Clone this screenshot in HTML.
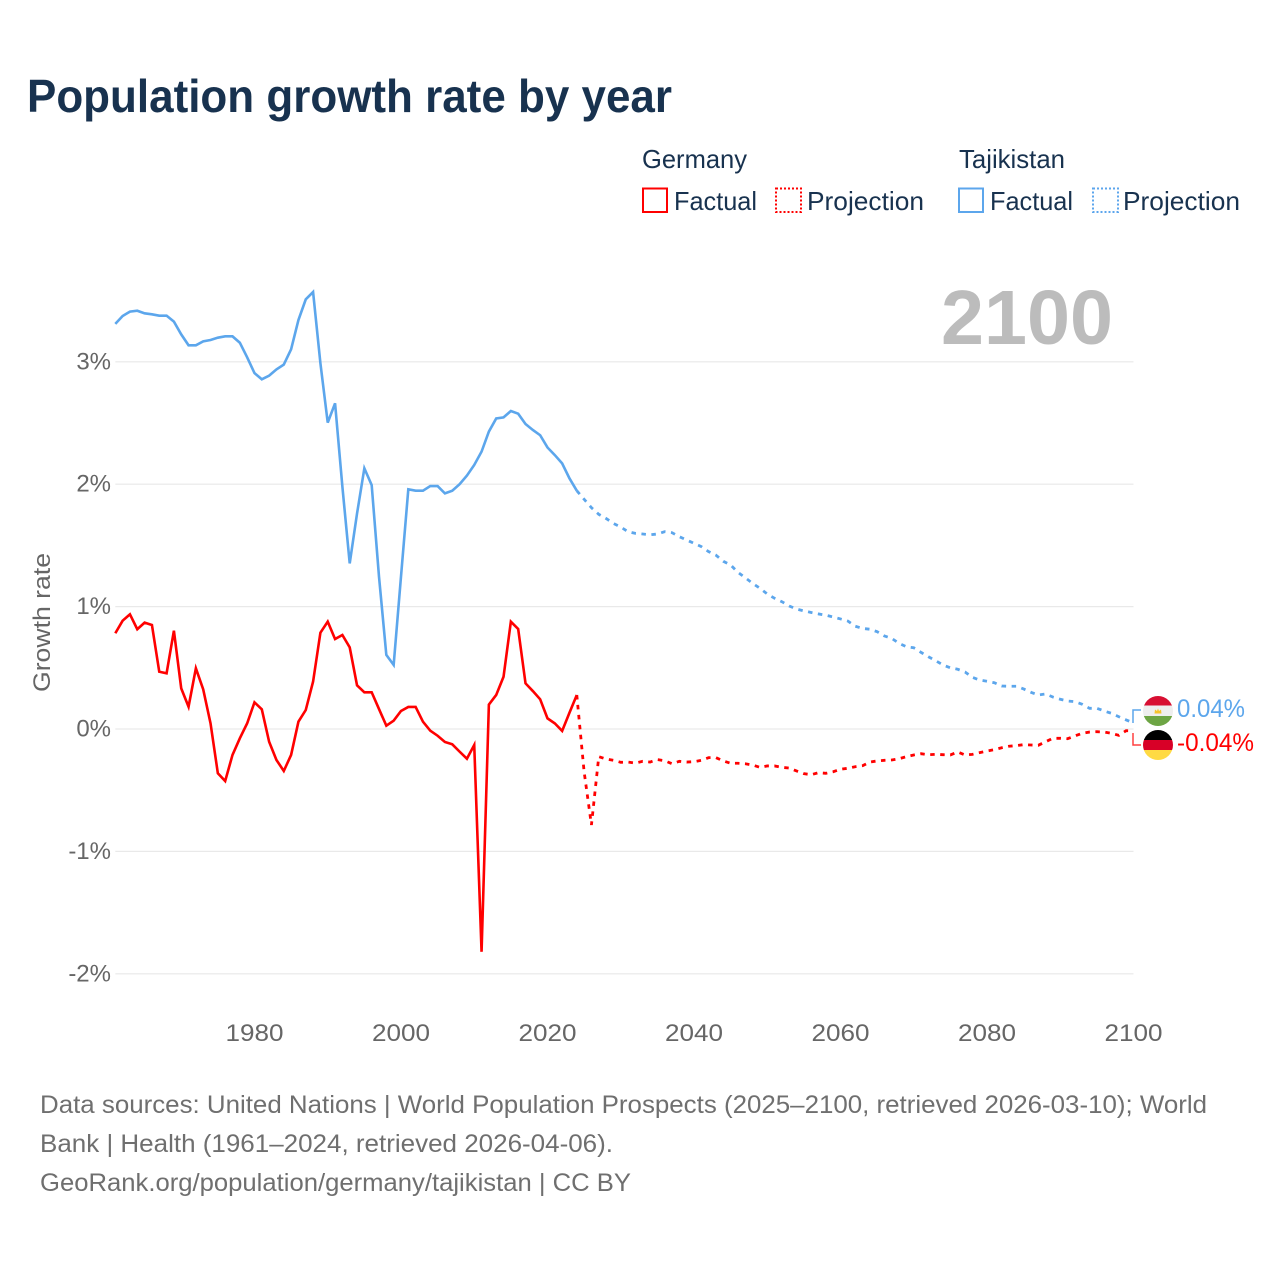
<!DOCTYPE html>
<html lang="en">
<head>
<meta charset="utf-8">
<title>Population growth rate by year</title>
<style>
html,body{margin:0;padding:0;background:#fff;}
svg{display:block;}
text{font-family:"Liberation Sans",Arial,sans-serif;}
</style>
</head>
<body>
<svg id="chart" xmlns="http://www.w3.org/2000/svg" width="1280" height="1280" viewBox="0 0 1280 1280">
  <rect x="0" y="0" width="1280" height="1280" fill="#ffffff"/>
  <text x="27" y="112" font-size="46" font-weight="700" fill="#18324f" textLength="645" lengthAdjust="spacingAndGlyphs">Population growth rate by year</text>

  <g font-size="26" fill="#18324f">
    <text x="642" y="168" textLength="105" lengthAdjust="spacingAndGlyphs">Germany</text>
    <text x="959" y="168" textLength="106" lengthAdjust="spacingAndGlyphs">Tajikistan</text>
    <rect x="643" y="188.5" width="24" height="23.5" fill="none" stroke="#ff0000" stroke-width="2"/>
    <text x="674" y="210" textLength="83" lengthAdjust="spacingAndGlyphs">Factual</text>
    <rect x="776" y="188.5" width="25" height="23.5" fill="none" stroke="#ff0000" stroke-width="2" stroke-dasharray="2 2"/>
    <text x="807" y="210" textLength="117" lengthAdjust="spacingAndGlyphs">Projection</text>
    <rect x="959" y="188.5" width="24" height="23.5" fill="none" stroke="#5ca6ec" stroke-width="2"/>
    <text x="990" y="210" textLength="83" lengthAdjust="spacingAndGlyphs">Factual</text>
    <rect x="1093" y="188.5" width="25" height="23.5" fill="none" stroke="#5ca6ec" stroke-width="2" stroke-dasharray="2 2"/>
    <text x="1123" y="210" textLength="117" lengthAdjust="spacingAndGlyphs">Projection</text>
  </g>

  <text x="941" y="344" font-size="77" font-weight="700" fill="#bcbcbc" textLength="172" lengthAdjust="spacingAndGlyphs">2100</text>

  <g id="grid"></g>
  <g id="y-axis" font-size="24" fill="#666666" text-anchor="end"></g>
  <g id="x-axis" font-size="24" fill="#666666" text-anchor="middle"></g>
  <text transform="translate(50,692) rotate(-90)" font-size="24" fill="#666666" textLength="139" lengthAdjust="spacingAndGlyphs">Growth rate</text>
  <g id="series"></g>

  <path d="M1133 723 V710 H1141" fill="none" stroke="#5ca6ec" stroke-width="1.5"/>
  <path d="M1133 733 V745 H1141" fill="none" stroke="#ff4040" stroke-width="1.5"/>

  <defs>
    <clipPath id="clip-tj"><circle cx="1158" cy="711" r="15"/></clipPath>
    <clipPath id="clip-de"><circle cx="1158" cy="745" r="15"/></clipPath>
  </defs>
  <g clip-path="url(#clip-tj)">
    <rect x="1143" y="696" width="30" height="9.5" fill="#d80f32"/>
    <rect x="1143" y="705.5" width="30" height="10.5" fill="#eeeeee"/>
    <rect x="1143" y="716" width="30" height="10" fill="#6da544"/>
    <path d="M1154.5 713.5 L1155 709.5 L1157 711 L1158 708.5 L1159 711 L1161 709.5 L1161.5 713.5 Z" fill="#f5c32c"/>
  </g>
  <g clip-path="url(#clip-de)">
    <rect x="1143" y="730" width="30" height="10" fill="#000000"/>
    <rect x="1143" y="740" width="30" height="10" fill="#d80027"/>
    <rect x="1143" y="750" width="30" height="10" fill="#ffda44"/>
  </g>
  <text x="1177" y="717" font-size="25" fill="#5ca6ec" textLength="68" lengthAdjust="spacingAndGlyphs">0.04%</text>
  <text x="1177" y="751" font-size="25" fill="#ff0000" textLength="77" lengthAdjust="spacingAndGlyphs">-0.04%</text>

  <g font-size="25" fill="#6f6f6f">
    <text x="40" y="1113" textLength="1167" lengthAdjust="spacingAndGlyphs">Data sources: United Nations | World Population Prospects (2025–2100, retrieved 2026-03-10); World</text>
    <text x="40" y="1152" textLength="573" lengthAdjust="spacingAndGlyphs">Bank | Health (1961–2024, retrieved 2026-04-06).</text>
    <text x="40" y="1191" textLength="591" lengthAdjust="spacingAndGlyphs">GeoRank.org/population/germany/tajikistan | CC BY</text>
  </g>
</svg>

<script>
const xTicks = [1980, 2000, 2020, 2040, 2060, 2080, 2100];
const yTicks = [3, 2, 1, 0, -1, -2];
const yTickLabels = ['3%', '2%', '1%', '0%', '-1%', '-2%'];
const factualStartYear = 1961;
const projectionStartYear = 2024;

const tajikistanFactual = [
  3.31, 3.374, 3.41, 3.417, 3.396, 3.388, 3.377, 3.377, 3.328, 3.224,
  3.135, 3.135, 3.167, 3.178, 3.197, 3.208, 3.208, 3.156, 3.037, 2.908,
  2.857, 2.887, 2.938, 2.977, 3.102, 3.341, 3.51, 3.57, 2.988, 2.503,
  2.661, 1.98, 1.353, 1.76, 2.13, 1.993, 1.244, 0.605, 0.523, 1.244,
  1.958, 1.947, 1.947, 1.985, 1.985, 1.925, 1.947, 2.0, 2.07, 2.157,
  2.266, 2.43, 2.537, 2.546, 2.598, 2.576, 2.492, 2.443, 2.4, 2.3,
  2.238, 2.17, 2.048, 1.947
];
const tajikistanProjection = [
  1.947, 1.877, 1.808, 1.754, 1.72, 1.68, 1.65, 1.612, 1.598, 1.593, 1.587,
  1.593, 1.612, 1.604, 1.571, 1.544, 1.517, 1.49, 1.449, 1.42, 1.37,
  1.34, 1.28, 1.236, 1.19, 1.15, 1.103, 1.068, 1.04, 1.005, 0.98,
  0.965, 0.952, 0.94, 0.93, 0.915, 0.899, 0.882, 0.84, 0.822, 0.815,
  0.795, 0.76, 0.74, 0.70, 0.672, 0.664, 0.626, 0.59, 0.558, 0.523,
  0.50, 0.488, 0.466, 0.422, 0.40, 0.39, 0.378, 0.351, 0.349, 0.349,
  0.327, 0.30, 0.278, 0.286, 0.261, 0.243, 0.229, 0.223, 0.202, 0.169,
  0.169, 0.147, 0.128, 0.10, 0.074, 0.05
];
const germanyFactual = [
  0.782, 0.885, 0.937, 0.815, 0.869, 0.85, 0.468, 0.455, 0.803, 0.332,
  0.182, 0.496, 0.324, 0.046, -0.362, -0.425, -0.212, -0.076, 0.046, 0.218,
  0.161, -0.104, -0.253, -0.343, -0.212, 0.06, 0.155, 0.387, 0.787, 0.877,
  0.735, 0.768, 0.667, 0.357, 0.30, 0.30, 0.163, 0.027, 0.068, 0.147,
  0.18, 0.18, 0.06, -0.014, -0.055, -0.106, -0.125, -0.185, -0.243, -0.131,
  -1.82, 0.199, 0.278, 0.427, 0.877, 0.817, 0.373, 0.31, 0.243, 0.087,
  0.046, -0.016, 0.133, 0.278
];
const germanyProjection = [
  0.278, -0.349, -0.784, -0.226, -0.245, -0.256, -0.272, -0.27, -0.278, -0.264, -0.27,
  -0.25, -0.259, -0.284, -0.264, -0.27, -0.267, -0.256, -0.234, -0.234, -0.261,
  -0.28, -0.28, -0.284, -0.294, -0.313, -0.302, -0.302, -0.313, -0.319, -0.343,
  -0.365, -0.373, -0.357, -0.362, -0.349, -0.329, -0.321, -0.308, -0.30, -0.27,
  -0.261, -0.256, -0.253, -0.243, -0.226, -0.212, -0.202, -0.21, -0.207, -0.21,
  -0.212, -0.188, -0.212, -0.207, -0.193, -0.18, -0.169, -0.153, -0.141, -0.136,
  -0.128, -0.131, -0.133, -0.104, -0.076, -0.076, -0.079, -0.057, -0.035, -0.025,
  -0.022, -0.025, -0.035, -0.052, -0.014, -0.015
];

const SVG_NS = 'http://www.w3.org/2000/svg';
const xScale = function (year) { return 115.3 + (year - 1961) * (1018.2 / 139); };
const yScale = function (v) { return 729 - v * 122.4; };

function pathFrom(values, startYear) {
  return values.map(function (v, i) {
    return (i ? 'L' : 'M') + xScale(startYear + i).toFixed(2) + ' ' + yScale(v).toFixed(2);
  }).join(' ');
}

const grid = document.getElementById('grid');
const yAxis = document.getElementById('y-axis');
const xAxis = document.getElementById('x-axis');
const seriesGroup = document.getElementById('series');

yTicks.forEach(function (t, i) {
  const line = document.createElementNS(SVG_NS, 'line');
  
  
  line.setAttribute('x1', xScale(1961));
  line.setAttribute('x2', xScale(2100));
  line.setAttribute('y1', yScale(t));
  line.setAttribute('y2', yScale(t));
  line.setAttribute('stroke', '#e9e9e9');
  line.setAttribute('stroke-width', '1.2');
  grid.appendChild(line);

  const label = document.createElementNS(SVG_NS, 'text');
  
  
  label.setAttribute('x', 111);
  label.setAttribute('y', yScale(t) + 7.5);
  label.textContent = yTickLabels[i];
  yAxis.appendChild(label);
});

xTicks.forEach(function (t) {
  const label = document.createElementNS(SVG_NS, 'text');
  
  
  label.setAttribute('x', xScale(t));
  label.setAttribute('y', 1041);
  label.setAttribute('textLength', '58');
  label.setAttribute('lengthAdjust', 'spacingAndGlyphs');
  label.textContent = String(t);
  xAxis.appendChild(label);
});

function styledLine(el, d, color, dash) {
  el.setAttribute('d', d);
  el.setAttribute('fill', 'none');
  el.setAttribute('stroke', color);
  el.setAttribute('stroke-width', dash ? '2.8' : '2.6');
  el.setAttribute('stroke-linejoin', 'miter');
  if (dash) { el.setAttribute('stroke-dasharray', dash); }
  seriesGroup.appendChild(el);
}

const tjFactualLine = document.createElementNS(SVG_NS, 'path');


styledLine(tjFactualLine, pathFrom(tajikistanFactual, factualStartYear), '#5ca6ec', null);

const tjProjectionLine = document.createElementNS(SVG_NS, 'path');


styledLine(tjProjectionLine, pathFrom(tajikistanProjection, projectionStartYear), '#5ca6ec', '4.5 5.5');

const deFactualLine = document.createElementNS(SVG_NS, 'path');


styledLine(deFactualLine, pathFrom(germanyFactual, factualStartYear), '#ff0000', null);

const deProjectionLine = document.createElementNS(SVG_NS, 'path');


styledLine(deProjectionLine, pathFrom(germanyProjection, projectionStartYear), '#ff0000', '4.5 5.5');
</script>
</body>
</html>
